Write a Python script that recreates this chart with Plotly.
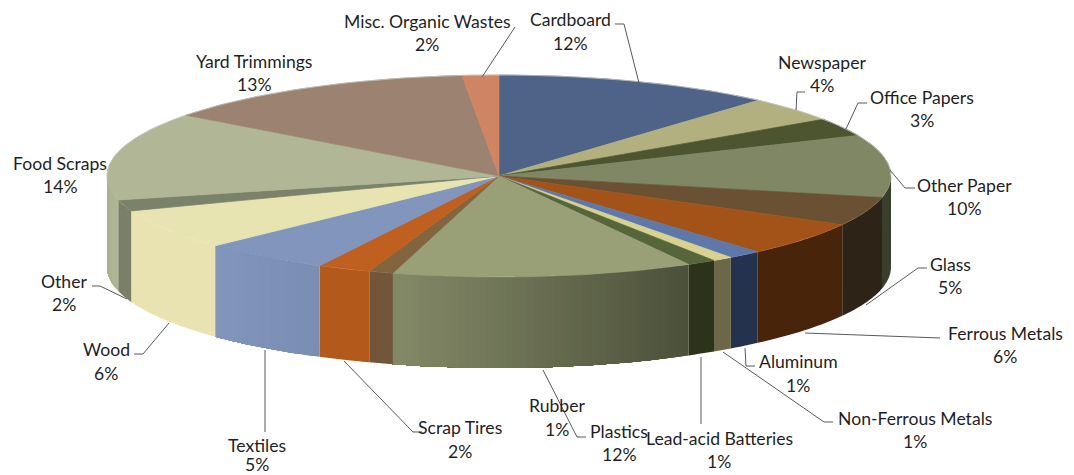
import math
import plotly.graph_objects as go

# ---- data ----
categories = ["Cardboard", "Newspaper", "Office Papers", "Other Paper", "Glass", "Ferrous Metals",
              "Aluminum", "Non-Ferrous Metals", "Lead-acid Batteries", "Plastics", "Rubber",
              "Scrap Tires", "Textiles", "Wood", "Other", "Food Scraps", "Yard Trimmings",
              "Misc. Organic Wastes"]
values = [11.5, 4.0, 2.9, 10.0, 4.6, 5.5, 1.4, 0.83, 1.2, 12.4, 1.0, 2.2, 5.3, 6.5, 1.8, 14.1, 13.2, 1.5]
pct_labels = ["12%", "4%", "3%", "10%", "5%", "6%", "1%", "1%", "1%", "12%", "1%", "2%", "5%", "6%",
              "2%", "14%", "13%", "2%"]

# ---- style ----
top_colors = ["#4f6288", "#b3b07f", "#4c5530", "#7f8765", "#6b5134", "#a35317", "#5f78aa", "#d7d192",
              "#57663a", "#99a078", "#82643f", "#c06020", "#8295bd", "#e8e4b2", "#7a8269", "#b0b696",
              "#9c8270", "#cf8463"]
wall_start = ["#4f6288", "#b3b07f", "#4c5530", "#3a3f2d", "#2e2317", "#48240a", "#25324d", "#6b6748",
              "#2d331a", "#4b5039", "#71563a", "#b2591b", "#7a8db3", "#e8e3b0", "#7a8068", "#b0b595",
              "#9c8270", "#cf8463"]
wall_end = ["#4f6288", "#b3b07f", "#4c5530", "#3a3f2d", "#2e2317", "#48240a", "#25324d", "#6b6748",
            "#2d331a", "#848a68", "#71563a", "#b2591b", "#8295bd", "#e8e3b0", "#7a8068", "#a8ad8f",
            "#9c8270", "#cf8463"]
CX, CY, RX, RY, DEPTH = 499, 176, 392, 101, 91
TEXT_COLOR = "#1f1f1f"
LEADER_COLOR = "#595959"
RIM_COLOR = "#c4c4c0"
FONT = "Lato"
FONT_SIZE = 17.6

# centre x, first-line y, second-line y of each label, same order as categories
label_pos = [(570, 19, 43), (822, 62, 85), (922, 97, 120), (964, 185, 208), (950, 264, 287),
             (1005, 333, 356), (798, 361, 385), (915, 418, 441), (719, 438, 461), (619, 431, 454),
             (557, 405, 429), (460, 427, 451), (257, 445, 464), (106, 349, 373), (64, 281, 304),
             (60, 163, 186), (254, 61, 84), (427, 21, 44)]

leaders = [
    [(615, 24), (624, 24), (639, 83)],
    [(805, 92), (797, 92), (796, 110)],
    [(867, 103), (858, 103), (846, 129)],
    [(890, 170), (905, 188), (915, 188)],
    [(866, 305), (918, 268), (927, 268)],
    [(805, 333), (940, 338)],
    [(745, 348), (746, 366), (755, 366)],
    [(723, 352), (824, 422), (833, 422)],
    [(701, 357), (701, 424)],
    [(543, 370), (577, 437), (586, 437)],
    [(344, 361), (413, 432), (422, 432)],
    [(265, 350), (265, 432)],
    [(169, 323), (143, 354), (134, 354)],
    [(127, 299), (100, 286), (92, 286)],
    [(515, 27), (482, 77)],
]


def pt(deg, dy=0.0):
    a = math.radians(deg)
    return CX + RX * math.sin(a), CY - RY * math.cos(a) + dy


def mix(c1, c2, t):
    a = [int(c1[i:i + 2], 16) for i in (1, 3, 5)]
    b = [int(c2[i:i + 2], 16) for i in (1, 3, 5)]
    return "rgb(%d,%d,%d)" % tuple(round(p + (q - p) * t) for p, q in zip(a, b))


fig = go.Figure()
total = sum(values)
spans = []
acc = 0.0
for v in values:
    spans.append((acc / total * 360, (acc + v) / total * 360))
    acc += v


def poly(xs, ys, color, line=True):
    fig.add_trace(go.Scatter(x=xs, y=ys, mode="lines" if line else "none", fill="toself", fillcolor=color,
                             line=dict(color=color, width=0.7), hoverinfo="skip", showlegend=False))


# side wall: shaded slices get thin overlapping strips, the others one piece
for i, (a0, a1) in enumerate(spans):
    lo, hi = max(a0, 90), min(a1, 270)
    if hi <= lo:
        continue
    shaded = wall_start[i] != wall_end[i]
    n = max(1, math.ceil((hi - lo) / 1.0)) if shaded else 1
    for k in range(n):
        s0 = lo + (hi - lo) * k / n
        s1 = hi  # each strip runs to the slice's end; the next one paints over it
        steps = max(2, math.ceil((s1 - s0) / 1.0))
        ang = [s0 + (s1 - s0) * j / steps for j in range(steps + 1)]
        up = [pt(a) for a in ang]
        dn = [pt(a, DEPTH) for a in reversed(ang)]
        pts = up + dn + [up[0]]
        poly([p[0] for p in pts], [p[1] for p in pts], mix(wall_start[i], wall_end[i], (k + 0.5) / n), line=False)

# top face
for i, (a0, a1) in enumerate(spans):
    n = max(2, math.ceil((a1 - a0) / 1.0))
    arc = [pt(a0 + (a1 - a0) * k / n) for k in range(n + 1)]
    xs = [CX] + [p[0] for p in arc] + [CX]
    ys = [CY] + [p[1] for p in arc] + [CY]
    poly(xs, ys, top_colors[i])

# pale rim along the back of the top face
rim = [pt(270 + d) for d in range(0, 181, 2)]
fig.add_trace(go.Scatter(x=[p[0] for p in rim], y=[p[1] for p in rim], mode="lines",
                         line=dict(color=RIM_COLOR, width=0.8), hoverinfo="skip", showlegend=False))

# leader lines
for line in leaders:
    fig.add_trace(go.Scatter(x=[p[0] for p in line], y=[p[1] for p in line], mode="lines",
                             line=dict(color=LEADER_COLOR, width=1), hoverinfo="skip", showlegend=False))

# labels
for name, pct, (x, y1, y2) in zip(categories, pct_labels, label_pos):
    for txt, y in ((name, y1), (pct, y2)):
        fig.add_annotation(x=x, y=y, text=txt, showarrow=False, xref="x", yref="y",
                           xanchor="center", yanchor="middle",
                           font=dict(family=FONT, size=FONT_SIZE, color=TEXT_COLOR))

fig.update_layout(width=1074, height=475, margin=dict(l=0, r=0, t=0, b=0),
                  paper_bgcolor="white", plot_bgcolor="white", showlegend=False,
                  xaxis=dict(range=[0, 1074], visible=False, fixedrange=True),
                  yaxis=dict(range=[475, 0], visible=False, fixedrange=True))
fig.write_html("out.html", config={"displayModeBar": False},
               post_script="document.body.style.margin='0';document.body.style.overflow='hidden';")
